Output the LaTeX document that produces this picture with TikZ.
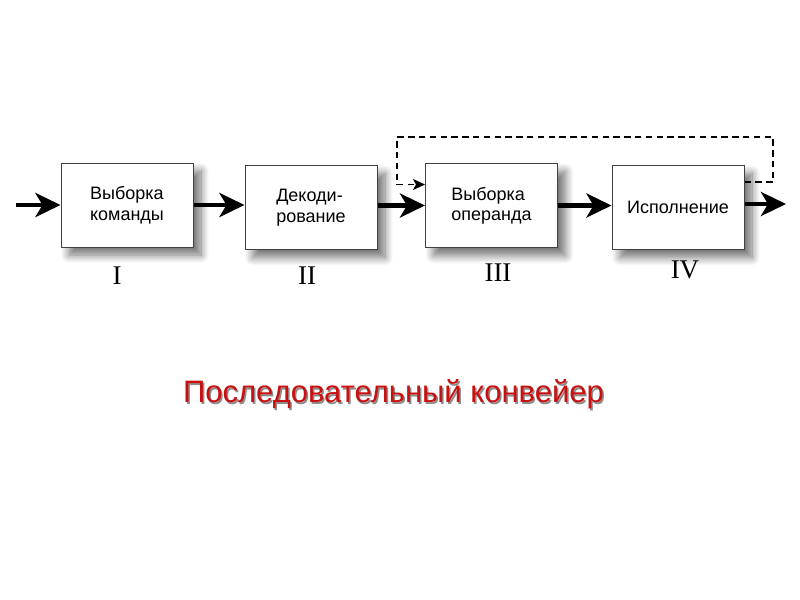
\documentclass[tikz,border=0pt]{standalone}
\usepackage{fontspec}
\setmainfont{Liberation Sans}
\newfontfamily\romanfont{Liberation Serif}
\usetikzlibrary{calc, positioning}
\usetikzlibrary{arrows.meta}
\usetikzlibrary{shadows, shadows.blur}

\tikzset{
  stage/.style={draw=black!75, line width=0.5pt, fill=white, minimum width=66pt, minimum height=42pt,
    align=left, font=\fontsize{9}{10.2}\selectfont,
    blur shadow={shadow xshift=4pt, shadow yshift=-4pt, shadow blur radius=4pt, shadow blur steps=10, shadow opacity=55}},
  flow/.style={line width=2.3pt, -{Stealth[length=12.5pt, width=12pt, inset=3.5pt]}},
  feedback/.style={line width=0.75pt, dash pattern=on 3.2pt off 2.2pt, -{Stealth[length=6pt, width=5.5pt, inset=1.5pt]}},
  numeral/.style={font=\romanfont\fontsize{13.5}{13.5}\selectfont},
}

\begin{document}
\begin{tikzpicture}[x=0.5pt, y=-0.5pt]
\useasboundingbox (0,0) rectangle (800,600);
% stages
\node[stage] (fetch) at (127,205) {Выборка\\команды};
\node[stage] (decode) at (311,207.5) {Декоди-\\рование};
\node[stage] (operand) at (491.5,205.5) {Выборка\\операнда};
\node[stage] (exec) at (678,207.5) {Исполнение};
\coordinate (in) at (16,205);
\coordinate (out) at (786,204);
% main flow
\draw[flow] (in) -- (fetch.west);
\draw[flow] (fetch.east) -- (decode.west |- fetch.east);
\draw[flow] (decode.east |- operand.west) -- (operand.west);
\draw[flow] (operand.east) -- (exec.west |- operand.east);
\draw[flow] (exec.east |- out) -- (out);
% feedback loop
\draw[feedback] ([yshift=-8.5pt]exec.north east) -| (773,137) -| (397,184.5) -- ([yshift=-10.75pt]operand.north west);
% stage numbers
\node[numeral] (n1) at (117,276) {I};
\node[numeral] (n2) at (307,276) {II};
\node[numeral] (n3) at (498,273) {III};
\node[numeral] (n4) at (685,270) {IV};
% caption
\node[font=\fontsize{15.5}{15.5}\selectfont, text=black!45] (capshadow) at (395,396) {Последовательный конвейер};
\node[font=\fontsize{15.5}{15.5}\selectfont, text={rgb,255:red,200;green,16;blue,16}] (caption) at (393.5,394.5) {Последовательный конвейер};
\end{tikzpicture}
\end{document}
